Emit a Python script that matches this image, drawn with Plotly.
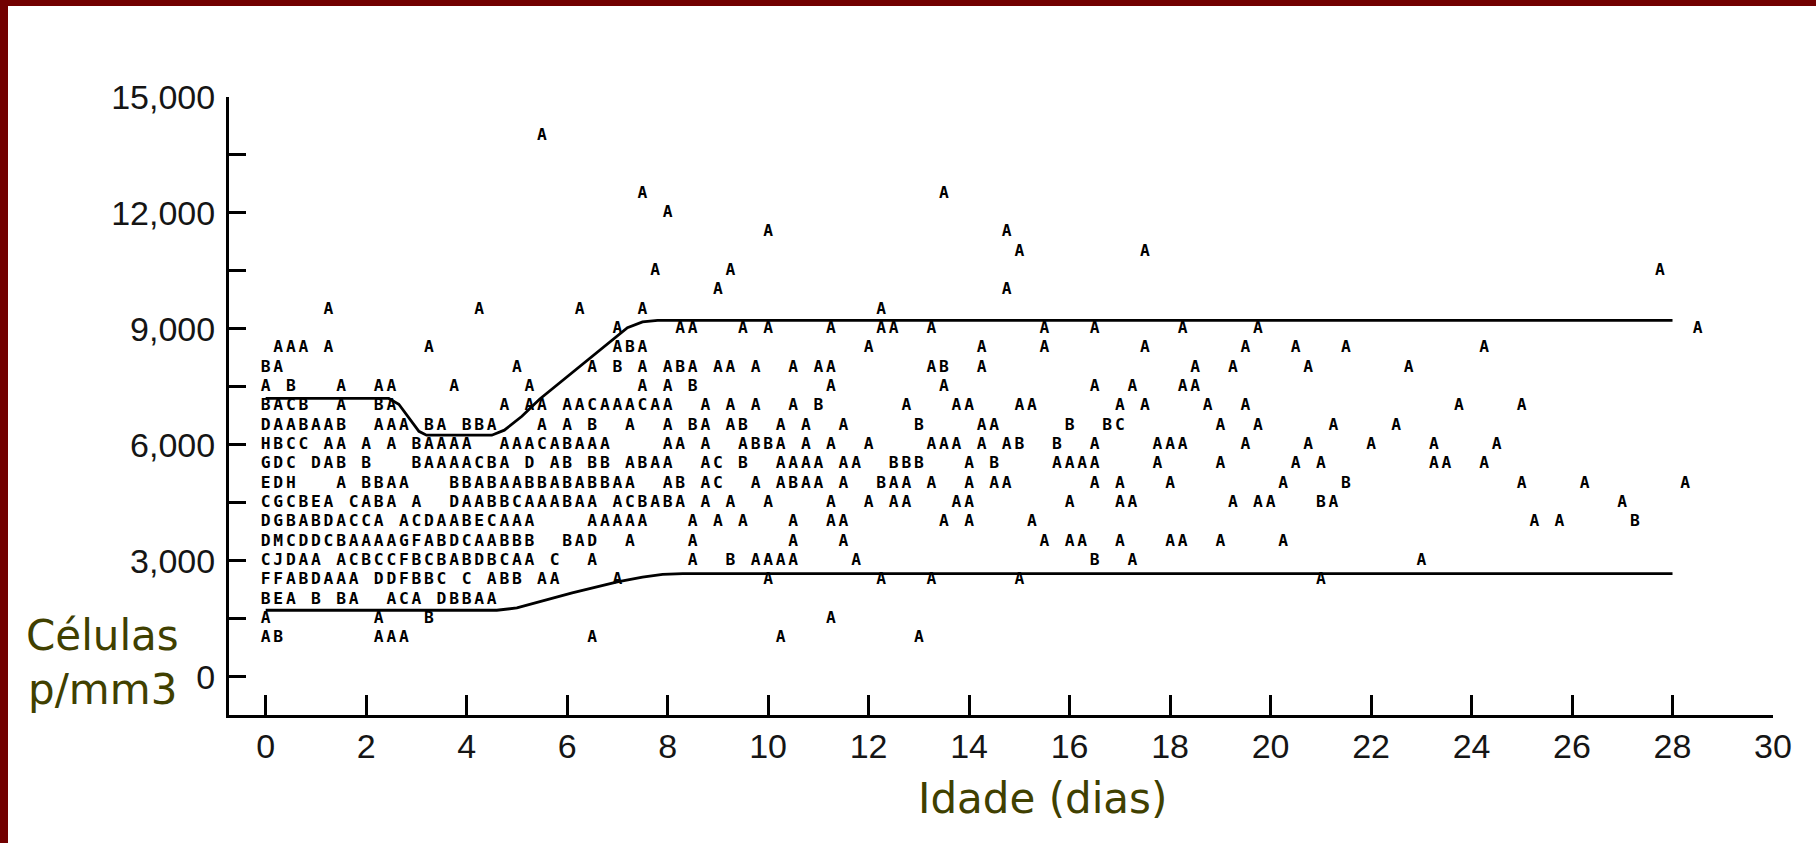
import plotly.graph_objects as go

# ---------------- data ----------------
AGE_STEP = 0.25  # days per print column (column 0 = day 0)

# one list per cell-count level: (first print column, run of letters); A=1 obs, B=2, C=3 ...
r14000 = [(22, "A")]
r12500 = [(30, "A"), (54, "A")]
r12000 = [(32, "A")]
r11500 = [(40, "A"), (59, "A")]
r11000 = [(60, "A"), (70, "A")]
r10500 = [(31, "A"), (37, "A"), (111, "A")]
r10000 = [(36, "A"), (59, "A")]
r9500 = [(5, "A"), (17, "A"), (25, "A"), (30, "A"), (49, "A")]
r9000 = [(28, "A"), (33, "AA"), (38, "A"), (40, "A"), (45, "A"), (49, "AA"), (53, "A"),
         (62, "A"), (66, "A"), (73, "A"), (79, "A"), (114, "A")]
r8500 = [(1, "AAA"), (5, "A"), (13, "A"), (28, "ABA"), (48, "A"), (57, "A"), (62, "A"),
         (70, "A"), (78, "A"), (82, "A"), (86, "A"), (97, "A")]
r8000 = [(0, "BA"), (20, "A"), (26, "A"), (28, "B"), (30, "A"), (32, "ABA"), (36, "AA"),
         (39, "A"), (42, "A"), (44, "AA"), (53, "AB"), (57, "A"), (74, "A"), (77, "A"),
         (83, "A"), (91, "A")]
r7500 = [(0, "A"), (2, "B"), (6, "A"), (9, "AA"), (15, "A"), (21, "A"), (30, "A"), (32, "A"),
         (34, "B"), (45, "A"), (54, "A"), (66, "A"), (69, "A"), (73, "AA")]
r7000 = [(0, "BACB"), (6, "A"), (9, "BA"), (19, "A"), (21, "AA"), (24, "AACAAACAA"), (35, "A"),
         (37, "A"), (39, "A"), (42, "A"), (44, "B"), (51, "A"), (55, "AA"), (60, "AA"),
         (68, "A"), (70, "A"), (75, "A"), (78, "A"), (95, "A"), (100, "A")]
r6500 = [(0, "DAABAAB"), (9, "AAA"), (13, "BA"), (16, "BBA"), (22, "A"), (24, "A"), (26, "B"),
         (29, "A"), (32, "A"), (34, "BA"), (37, "AB"), (41, "A"), (43, "A"), (46, "A"),
         (52, "B"), (57, "AA"), (64, "B"), (67, "BC"), (76, "A"), (79, "A"), (85, "A"), (90, "A")]
r6000 = [(0, "HBCC"), (5, "AA"), (8, "A"), (10, "A"), (12, "BAAAA"), (19, "AAACABAAA"),
         (32, "AA"), (35, "A"), (38, "ABBA"), (43, "A"), (45, "A"), (48, "A"), (53, "AAA"),
         (57, "A"), (59, "AB"), (63, "B"), (66, "A"), (71, "AAA"), (78, "A"), (83, "A"),
         (88, "A"), (93, "A"), (98, "A")]
r5500 = [(0, "GDC"), (4, "DAB"), (8, "B"), (12, "BAAAACBA"), (21, "D"), (23, "AB"), (26, "BB"),
         (29, "ABAA"), (35, "AC"), (38, "B"), (41, "AAAA"), (46, "AA"), (50, "BBB"), (56, "A"),
         (58, "B"), (63, "AAAA"), (71, "A"), (76, "A"), (82, "A"), (84, "A"), (93, "AA"), (97, "A")]
r5000 = [(0, "EDH"), (6, "A"), (8, "BBAA"), (15, "BBABAABBABABBAA"), (32, "AB"), (35, "AC"),
         (39, "A"), (41, "ABAA"), (46, "A"), (49, "BAA"), (53, "A"), (56, "A"), (58, "AA"),
         (66, "A"), (68, "A"), (72, "A"), (81, "A"), (86, "B"), (100, "A"), (105, "A"), (113, "A")]
r4500 = [(0, "CGCBEA"), (7, "CABA"), (12, "A"), (15, "DAABBCAAABAA"), (28, "ACBABA"), (35, "A"),
         (37, "A"), (40, "A"), (45, "A"), (48, "A"), (50, "AA"), (55, "AA"), (64, "A"), (68, "AA"),
         (77, "A"), (79, "AA"), (84, "BA"), (108, "A")]
r4000 = [(0, "DGBABDACCA"), (11, "ACDAABECAAA"), (26, "AAAAA"), (34, "A"), (36, "A"), (38, "A"),
         (42, "A"), (45, "AA"), (54, "A"), (56, "A"), (61, "A"), (101, "A"), (103, "A"), (109, "B")]
r3500 = [(0, "DMCDDCBAAAAGFABDCAABBB"), (24, "BAD"), (29, "A"), (34, "A"), (42, "A"), (46, "A"),
         (62, "A"), (64, "AA"), (68, "A"), (72, "AA"), (76, "A"), (81, "A")]
r3000 = [(0, "CJDAA"), (6, "ACBCCFBCBABDBCAA"), (23, "C"), (26, "A"), (34, "A"), (37, "B"),
         (39, "AAAA"), (47, "A"), (66, "B"), (69, "A"), (92, "A")]
r2500 = [(0, "FFABDAAA"), (9, "DDFBBC"), (16, "C"), (18, "ABB"), (22, "AA"), (28, "A"), (40, "A"),
         (49, "A"), (53, "A"), (60, "A"), (84, "A")]
r2000 = [(0, "BEA"), (4, "B"), (6, "BA"), (10, "ACA"), (14, "DBBAA")]
r1500 = [(0, "A"), (9, "A"), (13, "B"), (45, "A")]
r1000 = [(0, "AB"), (9, "AAA"), (26, "A"), (41, "A"), (52, "A")]

LEVELS = [14000, 12500, 12000, 11500, 11000, 10500, 10000, 9500, 9000, 8500, 8000, 7500,
          7000, 6500, 6000, 5500, 5000, 4500, 4000, 3500, 3000, 2500, 2000, 1500, 1000]
ROW_LISTS = [r14000, r12500, r12000, r11500, r11000, r10500, r10000, r9500, r9000, r8500,
             r8000, r7500, r7000, r6500, r6000, r5500, r5000, r4500, r4000, r3500, r3000,
             r2500, r2000, r1500, r1000]

# reference curves (upper / lower limits)
UPPER_AGE = [0, 2.45, 2.65, 2.85, 3.05, 3.2, 4.5, 4.75, 5.1, 5.45, 6.15, 6.9, 7.2, 7.5, 7.8, 28]
UPPER_CELLS = [7200, 7200, 7050, 6700, 6350, 6250, 6250, 6380, 6740, 7180, 7920, 8720, 9030,
               9180, 9220, 9220]
LOWER_AGE = [0, 4.6, 5.0, 5.5, 6.1, 7.0, 7.5, 7.9, 8.3, 28]
LOWER_CELLS = [1720, 1720, 1780, 1950, 2170, 2455, 2580, 2650, 2670, 2670]

X_TICKS = list(range(0, 31, 2))
Y_TICKS = list(range(0, 15001, 1500))
Y_LABELS = [("{:,}".format(v) if v % 3000 == 0 else "") for v in Y_TICKS]

# ---------------- build ----------------
ages, cells, codes = [], [], []
for level, segs in zip(LEVELS, ROW_LISTS):
    for col, run in segs:
        for k, ch in enumerate(run):
            ages.append((col + k) * AGE_STEP)
            cells.append(level)
            codes.append(ch)

W, H = 1816, 843
ML, MR, MT, MB = 229, 43, 97, 128
PW, PH = W - ML - MR, H - MT - MB


def px(xp):
    return (xp - ML) / PW


def py(yp):
    return (H - MB - yp) / PH


fig = go.Figure()
fig.add_trace(go.Scatter(x=UPPER_AGE, y=UPPER_CELLS, mode="lines",
                         line=dict(color="black", width=2.8), hoverinfo="skip", showlegend=False))
fig.add_trace(go.Scatter(x=LOWER_AGE, y=LOWER_CELLS, mode="lines",
                         line=dict(color="black", width=2.8), hoverinfo="skip", showlegend=False))
fig.add_trace(go.Scatter(x=ages, y=cells, mode="text", text=codes,
                         textposition="middle center",
                         textfont=dict(family="DejaVu Sans Mono", size=16.3, color="black",
                                       weight="bold"),
                         cliponaxis=False, hoverinfo="skip", showlegend=False))

axis_font = dict(family="Liberation Sans", size=34, color="#151515")
fig.update_xaxes(range=[-0.73, 30], tickvals=X_TICKS, ticktext=[str(v) for v in X_TICKS],
                 ticks="inside", ticklen=20, tickwidth=2.5, tickcolor="black",
                 showline=True, linewidth=3, linecolor="black", showgrid=False,
                 zeroline=False, tickfont=axis_font, ticklabelstandoff=-1)
fig.update_yaxes(range=[-990, 15000], tickvals=Y_TICKS, ticktext=Y_LABELS,
                 ticks="inside", ticklen=17, tickwidth=3, tickcolor="black",
                 showline=True, linewidth=3, linecolor="black", showgrid=False,
                 zeroline=False, tickfont=axis_font, ticklabelstandoff=4)

title_font = dict(family="DejaVu Sans", size=42, color="#404000")
annotations = [
    dict(text="Células", x=px(24), y=py(635), xanchor="left", yanchor="middle"),
    dict(text="p/mm3", x=px(26), y=py(689), xanchor="left", yanchor="middle"),
    dict(text="Idade (dias)", x=px(1042), y=py(798), xanchor="center", yanchor="middle"),
]
for a in annotations:
    a.update(xref="paper", yref="paper", showarrow=False, font=title_font)

border = "#720000"
shapes = [
    dict(type="rect", xref="paper", yref="paper", x0=px(0), x1=px(8), y0=py(H), y1=py(0),
         fillcolor=border, line=dict(width=0), layer="above"),
    dict(type="rect", xref="paper", yref="paper", x0=px(0), x1=px(W), y0=py(6), y1=py(0),
         fillcolor=border, line=dict(width=0), layer="above"),
]

fig.update_layout(width=W, height=H, autosize=False,
                  margin=dict(l=ML, r=MR, t=MT, b=MB, pad=0),
                  paper_bgcolor="white", plot_bgcolor="white",
                  annotations=annotations, shapes=shapes, showlegend=False)

fig.write_html("out.html", config={"displayModeBar": False},
               post_script="document.body.style.margin='0';document.body.style.overflow='hidden';")
